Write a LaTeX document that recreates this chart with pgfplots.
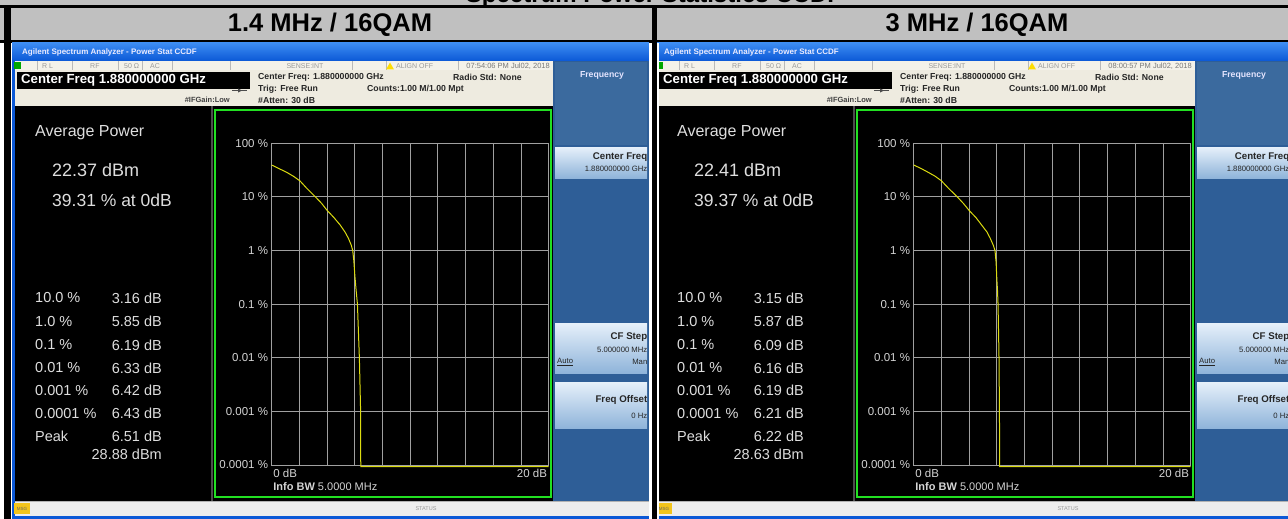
\documentclass[border=0pt]{standalone}
\usepackage{pgfplots}
\pgfplotsset{compat=1.18}
\usepackage{fontspec}
\setmainfont{Liberation Sans}
\definecolor{hdrgray}{HTML}{C0C0C0}
\definecolor{xpblue}{HTML}{0B58D6}
\definecolor{xpblueL}{HTML}{3C8CF2}
\definecolor{beige}{HTML}{EEEBE0}
\definecolor{statrow}{HTML}{F4F2EA}
\definecolor{panelblue}{HTML}{2E5E97}
\definecolor{panelblueL}{HTML}{3B6A9E}
\definecolor{btnTop}{HTML}{E6F0FA}
\definecolor{btnBot}{HTML}{8FB4DA}
\definecolor{gridgray}{HTML}{A0A0A0}
\definecolor{lblgray}{HTML}{D4D4D4}
\definecolor{txtgray}{HTML}{DEDEDE}
\definecolor{scrgreen}{HTML}{22E022}
\definecolor{trace}{HTML}{DCDC10}
\definecolor{msgyellow}{HTML}{F2C41C}
\newcommand\fs[1]{\fontsize{#1}{#1}\selectfont}

\newcommand\screen[2]{%
\begin{scope}[xshift=#1pt]
 \fill[xpblue] (12,43) rectangle (649,519);
 \shade[top color=xpblueL, bottom color=xpblue] (12,43) rectangle (649,61);
 \node[anchor=west, text=white!92!blue, font=\fs{8}\bfseries, inner sep=0pt] at (22,52.5) {Agilent Spectrum Analyzer - Power Stat CCDF};
 \fill[beige] (15,61) rectangle (553,106);
 \fill[statrow] (15,61.5) rectangle (553,70.5);
 \foreach \sx in {37,72,118,142,172,230,352,386,458,553} \draw[gray!55, line width=0.6] (\sx,61.5)--(\sx,70.5);
 \fill[green!65!black] (14,62) rectangle (21,69.5);
 \begin{scope}[every node/.style={font=\fs{7}, text=gray!80, inner sep=0pt}]
  \node[anchor=west] at (42,66) {R L};
  \node[anchor=west] at (90,66) {RF};
  \node[anchor=west] at (124,66) {50 Ω};
  \node[anchor=west] at (150,66) {AC};
  \node at (305,66) {SENSE:INT};
  \node[anchor=west] at (396,66) {ALIGN OFF};
  \node[anchor=east, text=gray!95!black, font=\fs{7.5}] at (550,66) {#2};
 \end{scope}
 \fill[yellow!80!orange] (386,69.5) -- (394,69.5) -- (390,62.5) -- cycle;
 \fill[black] (17,72) rectangle (250,88.5);
 \node[anchor=west, text=white, font=\fs{13.2}\bfseries, inner sep=0pt] at (21,80.5) {Center Freq 1.880000000 GHz};
 \begin{scope}[every node/.style={font=\fs{8.7}\bfseries, text=black!85, inner sep=0pt, anchor=west}]
  \node at (258,77.5) {Center Freq: 1.880000000 GHz};
  \node at (258,89) {Trig: Free Run};
  \node at (258,100) {\#Atten: 30 dB};
  \node at (367,89) {Counts:1.00 M/1.00 Mpt};
  \node at (453,77.5) {Radio Std: None};
 \end{scope}
 \node[anchor=east, font=\fs{7.5}\bfseries, text=black!75, inner sep=0pt] at (230,100) {\#IFGain:Low};
 \draw[black!70, line width=0.6] (232,90.5)--(247,90.5);
 \fill[black!70] (238,88.5) -- (242,90.5) -- (238,92.5) -- cycle;
 \fill[black] (15,106) rectangle (553,501);
 \fill[black!70] (210.5,106) rectangle (213,501);
 \draw[scrgreen, line width=2] (215,110) rectangle (550.5,496.5);
 \fill[panelblue] (553,61) rectangle (649,503);
 \fill[panelblueL] (555,62) rectangle (647,145);
 \node[font=\fs{8.7}\bfseries, text=white!90!blue] at (602,75) {Frequency};
 \shade[top color=btnTop, bottom color=btnBot] (555,147) rectangle (647,178);
 \shade[top color=btnTop, bottom color=btnBot] (555,323) rectangle (647,373);
 \shade[top color=btnTop, bottom color=btnBot] (555,382) rectangle (647,428);
 \begin{scope}[every node/.style={inner sep=0pt, anchor=east, text=black!85}]
  \node[font=\fs{9.7}\bfseries] at (647.5,157) {Center Freq};
  \node[font=\fs{7.7}] at (647.5,168.5) {1.880000000 GHz};
  \node[font=\fs{9.7}\bfseries] at (647.5,337) {CF Step};
  \node[font=\fs{7.7}] at (647.5,350) {5.000000 MHz};
  \node[font=\fs{7.7}] at (647.5,362) {Man};
  \node[font=\fs{9.7}\bfseries] at (647.5,400) {Freq Offset};
  \node[font=\fs{7.7}] at (647.5,416) {0 Hz};
 \end{scope}
 \node[anchor=west, inner sep=0pt, font=\fs{7.7}, text=black!85] at (557,362) {\underline{Auto}};
 \fill[gray!14] (15,501) rectangle (649,515.5);
 \draw[gray!60, line width=0.6] (15,501.5)--(649,501.5);
 \fill[msgyellow] (14,503) rectangle (30,514);
 \node[font=\fs{4.5}, text=black!60] at (22,508.5) {MSG};
 \node[font=\fs{5.5}, text=gray!80] at (426,509) {STATUS};
\end{scope}}

\newcommand\srow[4]{%
 \node[anchor=west, inner sep=0pt, font=\fs{14.5}, text=txtgray] at (35+#1,#2) {#3};
 \node[anchor=east, inner sep=0pt, font=\fs{14.5}, text=txtgray] at (162+#1,#2) {#4};}

\newcommand\stats[4]{%
 \node[anchor=west, inner sep=0pt, font=\fs{16}, text=txtgray] at (35+#1,133) {Average Power};
 \node[anchor=west, inner sep=0pt, font=\fs{18}, text=txtgray] at (52+#1,170) {#2 dBm};
 \node[anchor=west, inner sep=0pt, font=\fs{17.5}, text=txtgray] at (52+#1,200) {#3 \% at 0dB};
 \node[anchor=east, inner sep=0pt, font=\fs{14.5}, text=txtgray] at (162+#1,454) {#4 dBm};}

\newcommand\axisdeco{%
 \node[anchor=north west, inner sep=0pt, font=\fs{11.5}, text=lblgray, xshift=1.5pt, yshift=-3.5pt] at (axis cs:0,0.0001) {0 dB};
 \node[anchor=north east, inner sep=0pt, font=\fs{11.5}, text=lblgray, xshift=-1.5pt, yshift=-3.5pt] at (axis cs:20,0.0001) {20 dB};
 \node[anchor=north west, inner sep=0pt, font=\fs{11}, text=lblgray, xshift=1.5pt, yshift=-17pt] at (axis cs:0,0.0001) {\textbf{Info BW} 5.0000 MHz};}

\pgfplotstableread{
x y
0 39.31
0.5 34.0
1.08 28.8
1.6 24.0
2.05 19.8
2.53 14.5
3.16 10
3.6 7.6
3.98 5.7
4.5 4.1
4.94 3.0
5.3 2.2
5.54 1.69
5.75 1.25
5.85 1.0
5.93 0.65
6.0 0.35
6.08 0.2
6.19 0.1
6.33 0.01
6.42 0.001
6.43 0.0001
6.43 0.000093
20 0.000093
}\curveA

\pgfplotstableread{
x y
0 39.37
0.5 34.2
1.0 29.2
1.55 24.3
2.0 20.0
2.5 14.6
3.15 10
3.6 7.5
4.0 5.6
4.5 4.1
4.9 3.0
5.3 2.2
5.52 1.7
5.75 1.25
5.87 1.0
5.95 0.6
6.0 0.3
6.05 0.18
6.09 0.1
6.16 0.01
6.19 0.001
6.21 0.0001
6.21 0.000093
20 0.000093
}\curveB

\begin{document}
\begin{tikzpicture}
\path[use as bounding box] (0pt,0pt) rectangle (1288pt,-519pt);
\clip (0pt,0pt) rectangle (1288pt,-519pt);
\begin{scope}[x=1pt,y=-1pt]
 \fill[white] (0,0) rectangle (1288,519);
 \fill[hdrgray] (0,0) rectangle (1288,5);
 \begin{scope}
  \clip (0,0) rectangle (1288,5);
  \node[font=\fs{24}\bfseries, text=black, anchor=base] at (654,2.5) {Spectrum Power Statistics CCDF};
 \end{scope}
 \fill[black] (0,5) rectangle (1288,8);
 \fill[hdrgray] (0,8) rectangle (1288,40);
 \fill[black] (0,40) rectangle (1288,43);
 \node[font=\fs{25.5}\bfseries, inner sep=0pt] at (330,24.5) {1.4 MHz / 16QAM};
 \node[font=\fs{25.5}\bfseries, inner sep=0pt] at (977,24.5) {3 MHz / 16QAM};
 \screen{0}{07:54:06 PM Jul02, 2018}
 \screen{642}{08:00:57 PM Jul02, 2018}
 \fill[black] (4,5) rectangle (11,519);
 \fill[white] (649,43) rectangle (652,519);
 \fill[black] (652,5) rectangle (657,519);
 \fill[white] (657,43) rectangle (659,519);
 \stats{0}{22.37}{39.31}{28.88}
 \srow{0}{298}{10.0 \%}{3.16 dB}
 \srow{0}{321.5}{1.0 \%}{5.85 dB}
 \srow{0}{345}{0.1 \%}{6.19 dB}
 \srow{0}{368}{0.01 \%}{6.33 dB}
 \srow{0}{390.5}{0.001 \%}{6.42 dB}
 \srow{0}{413.5}{0.0001 \%}{6.43 dB}
 \srow{0}{436}{Peak}{6.51 dB}
 \stats{642}{22.41}{39.37}{28.63}
 \srow{642}{298}{10.0 \%}{3.15 dB}
 \srow{642}{321.5}{1.0 \%}{5.87 dB}
 \srow{642}{345}{0.1 \%}{6.09 dB}
 \srow{642}{368}{0.01 \%}{6.16 dB}
 \srow{642}{390.5}{0.001 \%}{6.19 dB}
 \srow{642}{413.5}{0.0001 \%}{6.21 dB}
 \srow{642}{436}{Peak}{6.22 dB}
\end{scope}
\begin{axis}[at={(271.7pt,-465pt)}, anchor=south west, scale only axis, width=277pt, height=321.7pt,
 xmin=0, xmax=20, ymode=log, ymin=0.0001, ymax=100,
 xtick={0,2,...,20}, xticklabels={},
 ytick={0.0001,0.001,0.01,0.1,1,10,100}, yminorticks=false,
 yticklabels={0.0001 \%,0.001 \%,0.01 \%,0.1 \%,1 \%,10 \%,100 \%},
 grid=major, major grid style={draw=gridgray, line width=0.9pt},
 axis line style={draw=gridgray, line width=0.9pt},
 major tick length=0pt, minor tick length=0pt,
 yticklabel style={font=\fs{11.5}, text=lblgray, inner sep=0pt, anchor=east, xshift=-3.5pt},
 clip=false]
 \addplot[trace, line width=1pt] table {\curveA};
 \axisdeco
\end{axis}
\begin{axis}[at={(913.7pt,-465pt)}, anchor=south west, scale only axis, width=277pt, height=321.7pt,
 xmin=0, xmax=20, ymode=log, ymin=0.0001, ymax=100,
 xtick={0,2,...,20}, xticklabels={},
 ytick={0.0001,0.001,0.01,0.1,1,10,100}, yminorticks=false,
 yticklabels={0.0001 \%,0.001 \%,0.01 \%,0.1 \%,1 \%,10 \%,100 \%},
 grid=major, major grid style={draw=gridgray, line width=0.9pt},
 axis line style={draw=gridgray, line width=0.9pt},
 major tick length=0pt, minor tick length=0pt,
 yticklabel style={font=\fs{11.5}, text=lblgray, inner sep=0pt, anchor=east, xshift=-3.5pt},
 clip=false]
 \addplot[trace, line width=1pt] table {\curveB};
 \axisdeco
\end{axis}
\end{tikzpicture}
\end{document}
